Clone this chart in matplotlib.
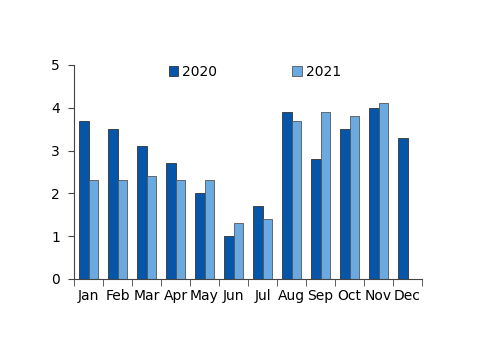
import matplotlib
matplotlib.use("Agg")
import matplotlib.pyplot as plt
import numpy as np

months = ["Jan", "Feb", "Mar", "Apr", "May", "Jun", "Jul", "Aug", "Sep", "Oct", "Nov", "Dec"]
vals_2020 = [3.7, 3.5, 3.1, 2.7, 2.0, 1.0, 1.7, 3.9, 2.8, 3.5, 4.0, 3.3]
vals_2021 = [2.3, 2.3, 2.4, 2.3, 2.3, 1.3, 1.4, 3.7, 3.9, 3.8, 4.1, np.nan]

fig = plt.figure(figsize=(5, 3.53), dpi=100)
ax = fig.add_axes([0.148, 0.21, 0.696, 0.606])

x = np.arange(len(months))
w = 0.33
ax.bar(x - w / 2, vals_2020, w, color="#0556A8", edgecolor="#333333", linewidth=0.6, label="2020")
ax.bar(x + w / 2, vals_2021, w, color="#6AAAE0", edgecolor="#555555", linewidth=0.6, label="2021")

ax.set_xlim(-0.5, 11.5)
ax.set_ylim(0, 5)
ax.set_yticks([0, 1, 2, 3, 4, 5])
ax.set_xticks(x)
ax.set_xticklabels(months)
ax.set_xticks(np.arange(-0.5, 12, 1), minor=True)
ax.tick_params(axis="x", which="major", length=0, labelsize=10, pad=7)
ax.tick_params(axis="x", which="minor", length=5, direction="out", color="#444444")
ax.tick_params(axis="y", length=4, direction="out", labelsize=10, pad=6, color="#444444")

for s in ["top", "right"]:
    ax.spines[s].set_visible(False)
for s in ["left", "bottom"]:
    ax.spines[s].set_color("#444444")
    ax.spines[s].set_linewidth(0.8)

ax.legend(loc="upper center", bbox_to_anchor=(0.52, 1.06), ncol=2, frameon=False,
          fontsize=10, columnspacing=5.4, handlelength=0.7, handleheight=0.7,
          handletextpad=0.3)

fig.savefig("out.png", dpi=100)
